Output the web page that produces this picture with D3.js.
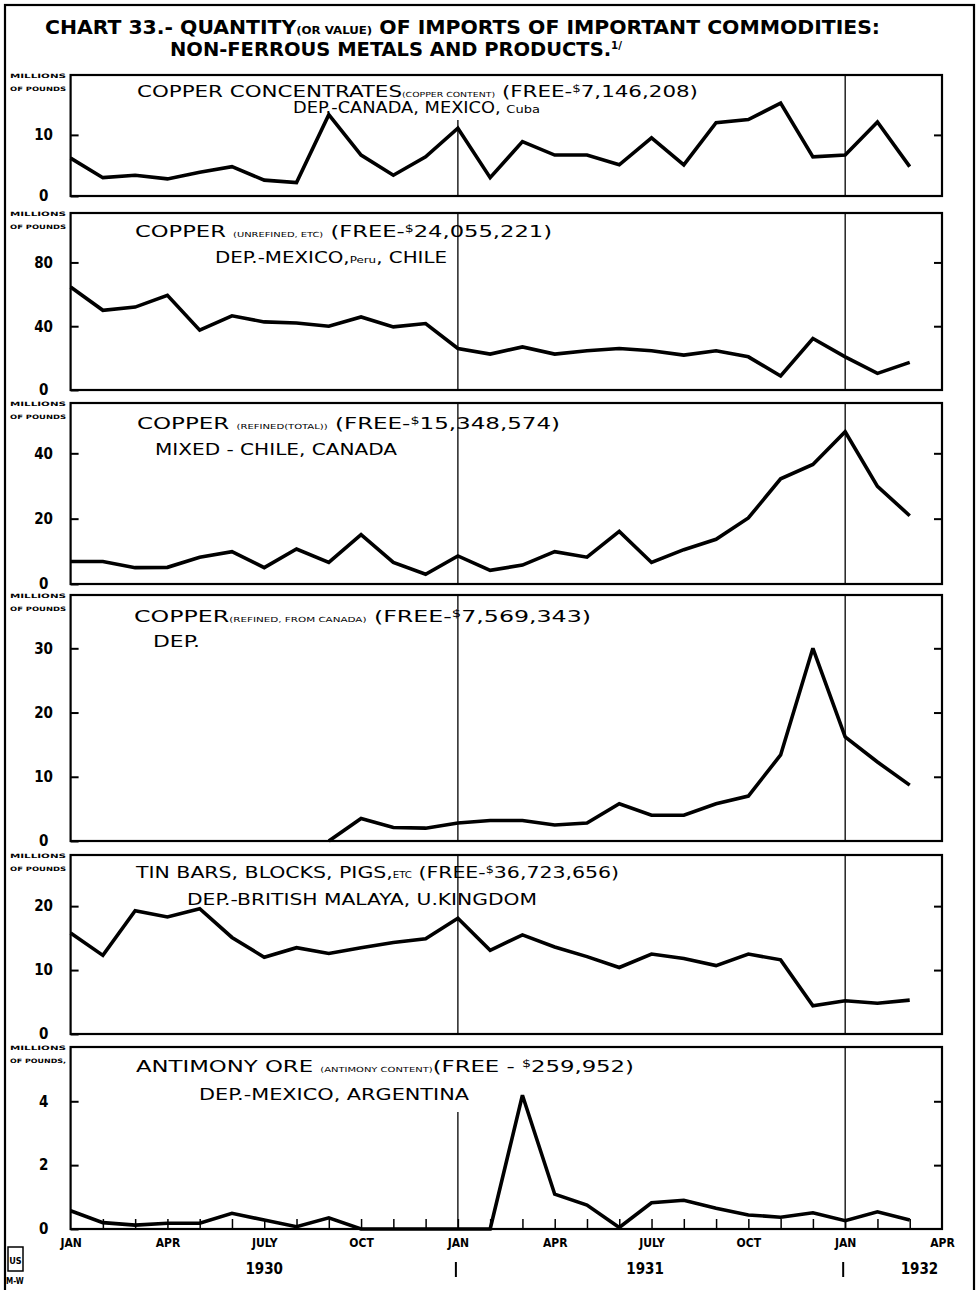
<!DOCTYPE html>
<html><head><meta charset="utf-8">
<script src="https://cdn.jsdelivr.net/npm/d3@7"></script>
<style>
html,body{margin:0;padding:0;background:#fff;}
svg{display:block;}
text{fill:#000;}
</style></head>
<body>
<script>
// ---------- DATA ----------
const months = ["Jan 1930","Feb 1930","Mar 1930","Apr 1930","May 1930","Jun 1930","Jul 1930","Aug 1930","Sep 1930","Oct 1930","Nov 1930","Dec 1930",
  "Jan 1931","Feb 1931","Mar 1931","Apr 1931","May 1931","Jun 1931","Jul 1931","Aug 1931","Sep 1931","Oct 1931","Nov 1931","Dec 1931",
  "Jan 1932","Feb 1932","Mar 1932"];
const copperConcentrates = [6.2,3.0,3.4,2.8,3.9,4.8,2.6,2.2,13.3,6.7,3.4,6.4,11.1,3.0,8.9,6.7,6.7,5.1,9.5,5.1,12.0,12.5,15.2,6.4,6.7,12.1,4.8];
const copperUnrefined = [64.6,50,52,59.4,37.5,46.5,42.7,42,40,45.8,39.6,41.7,26,22.5,27,22.5,24.6,26,24.6,21.9,24.6,20.8,8.8,32.3,20.8,10.4,17.3];
const copperRefinedTotal = [6.9,6.9,5.0,5.1,8.2,9.9,5.0,10.7,6.6,15.1,6.6,3.0,8.6,4.2,5.8,9.9,8.2,16.1,6.6,10.5,13.7,20.2,32.2,36.6,46.6,29.9,20.9];
const copperRefinedCanada = [null,null,null,null,null,null,null,null,0,3.5,2.1,2.0,2.8,3.2,3.2,2.5,2.8,5.8,4.0,4.0,5.8,7.0,13.4,30.0,16.2,12.3,8.7];
const tinBars = [15.8,12.3,19.3,18.3,19.6,15.1,12.0,13.5,12.6,13.5,14.3,14.9,18.1,13.1,15.5,13.6,12.1,10.4,12.5,11.8,10.7,12.5,11.6,4.4,5.2,4.8,5.3];
const antimonyOre = [0.57,0.2,0.12,0.18,0.18,0.49,0.28,0.07,0.35,0,0,0,0,0,4.19,1.09,0.75,0.05,0.82,0.9,0.65,0.44,0.37,0.51,0.26,0.54,0.28];

const ticks1 = [0,10], ticks2 = [0,40,80], ticks3 = [0,20,40], ticks4 = [0,10,20,30], ticks5 = [0,10,20], ticks6 = [0,2,4];
const monthTickLabels = ["JAN","APR","JULY","OCT","JAN","APR","JULY","OCT","JAN","APR"];
const yearLabels = ["1930","1931","1932"];

// ---------- LAYOUT ----------
const W = 979, H = 1290;
const X0 = 70.6, X1 = 942;
const FONT = "'Liberation Sans Narrow','DejaVu Sans Condensed','Liberation Sans',sans-serif";

const panels = [
  {values: copperConcentrates, max: 19.8, top: 75, bottom: 196, ticks: ticks1, janTop: 120,
   l1: [["COPPER CONCENTRATES",16],["(COPPER CONTENT)",7],[" (FREE-",16],["$",10,-5],["7,146,208)",16]], l1x: 137, l1y: 97, l1w: 561,
   l2: [["DEP.-CANADA, MEXICO, ",15],["Cuba",11]], l2x: 293, l2y: 113, l2w: 247},
  {values: copperUnrefined, max: 111, top: 213, bottom: 390, ticks: ticks2, janTop: 213,
   l1: [["COPPER ",16],["(UNREFINED, ETC)",7],[" (FREE-",16],["$",10,-5],["24,055,221)",16]], l1x: 135, l1y: 237, l1w: 417,
   l2: [["DEP.-MEXICO,",15],["Peru",9],[", CHILE",15]], l2x: 215, l2y: 263, l2w: 232},
  {values: copperRefinedTotal, max: 55.4, top: 403, bottom: 584, ticks: ticks3, janTop: 403,
   l1: [["COPPER ",16],["(REFINED(TOTAL))",7],[" (FREE-",16],["$",10,-5],["15,348,574)",16]], l1x: 137, l1y: 429, l1w: 423,
   l2: [["MIXED - CHILE, CANADA",15]], l2x: 155, l2y: 455, l2w: 242},
  {values: copperRefinedCanada, max: 38.3, top: 595, bottom: 841, ticks: ticks4, janTop: 595,
   l1: [["COPPER",16],["(REFINED, FROM CANADA)",7],[" (FREE-",16],["$",10,-5],["7,569,343)",16]], l1x: 134, l1y: 622, l1w: 457,
   l2: [["DEP.",15]], l2x: 153, l2y: 647, l2w: 47},
  {values: tinBars, max: 28, top: 855, bottom: 1034, ticks: ticks5, janTop: 855,
   l1: [["TIN BARS, BLOCKS, PIGS,",16],["ETC",8],[" (FREE-",16],["$",10,-5],["36,723,656)",16]], l1x: 136, l1y: 878, l1w: 483,
   l2: [["DEP.-BRITISH MALAYA, U.KINGDOM",15]], l2x: 187, l2y: 905, l2w: 350},
  {values: antimonyOre, max: 5.7, top: 1047, bottom: 1229, ticks: ticks6, janTop: 1112,
   l1: [["ANTIMONY ORE ",16],["(ANTIMONY CONTENT)",7],["(FREE - ",16],["$",10,-5],["259,952)",16]], l1x: 136, l1y: 1072, l1w: 498,
   l2: [["DEP.-MEXICO, ARGENTINA",15]], l2x: 199, l2y: 1100, l2w: 270}
];

const svg = d3.select("body").append("svg").attr("width", W).attr("height", H)
  .style("font-family", FONT);

svg.append("rect").attr("width", W).attr("height", H).attr("fill", "#fff");
// outer frame
svg.append("rect").attr("x", 5).attr("y", 5).attr("width", 969).attr("height", 1300)
  .attr("fill", "none").attr("stroke", "#000").attr("stroke-width", 2.2);

// title
function multiText(g, parts, x, y, w, weight) {
  const t = g.append("text").attr("x", x).attr("y", y)
    .attr("textLength", w).attr("lengthAdjust", "spacingAndGlyphs")
    .attr("font-weight", weight || "normal");
  parts.forEach(p => {
    const ts = t.append("tspan").attr("font-size", p[1]).text(p[0]);
    if (p[2]) ts.attr("dy", p[2]);
    else ts.attr("dy", 0);
  });
  // reset baseline after raised tspans
  let shift = 0;
  t.selectAll("tspan").each(function(d, i) {
    const p = parts[i];
    const target = p[2] || 0;
    d3.select(this).attr("dy", target - shift);
    shift = target;
  });
  return t;
}

multiText(svg, [["CHART 33.- QUANTITY",19],["(OR VALUE)",11],[" OF IMPORTS OF IMPORTANT COMMODITIES:",19]], 45, 34, 835, "bold");
multiText(svg, [["NON-FERROUS METALS AND PRODUCTS.",19],["1/",10,-7]], 170, 56, 452, "bold");

const x = d3.scaleLinear().domain([0, 27]).range([X0, X1]);

panels.forEach((p, pi) => {
  const g = svg.append("g");
  const y = d3.scaleLinear().domain([0, p.max]).range([p.bottom, p.top]);

  // Jan vertical lines
  [12, 24].forEach(m => {
    g.append("line").attr("x1", x(m)).attr("x2", x(m))
      .attr("y1", m === 12 ? p.janTop : p.top).attr("y2", p.bottom)
      .attr("stroke", "#000").attr("stroke-width", 1.3);
  });

  // left axis (inward ticks + labels)
  const la = g.append("g").attr("transform", `translate(${X0},0)`)
    .call(d3.axisLeft(y).tickValues(p.ticks).tickSize(-8).tickPadding(0).tickFormat(d3.format("d")));
  la.select(".domain").remove();
  la.selectAll(".tick line").attr("stroke", "#000").attr("stroke-width", 2);
  la.selectAll(".tick text").attr("x", -27).attr("text-anchor", "middle")
    .attr("font-size", 15).attr("font-weight", "bold").attr("font-family", FONT).attr("fill", "#000");

  // right axis (inward ticks)
  const ra = g.append("g").attr("transform", `translate(${X1},0)`)
    .call(d3.axisRight(y).tickValues(p.ticks.filter(v => v > 0)).tickSize(-8).tickFormat(""));
  ra.select(".domain").remove();
  ra.selectAll(".tick line").attr("stroke", "#000").attr("stroke-width", 2);

  // unit label
  g.append("text").attr("x", 10).attr("y", p.top + 3).attr("font-size", 6).attr("font-weight", "bold")
    .attr("textLength", 56).attr("lengthAdjust", "spacingAndGlyphs").text("MILLIONS");
  g.append("text").attr("x", 10).attr("y", p.top + 16).attr("font-size", 6).attr("font-weight", "bold")
    .attr("textLength", 56).attr("lengthAdjust", "spacingAndGlyphs").text(pi === 5 ? "OF POUNDS," : "OF POUNDS");

  // frame
  g.append("rect").attr("x", X0).attr("y", p.top).attr("width", X1 - X0).attr("height", p.bottom - p.top)
    .attr("fill", "none").attr("stroke", "#000").attr("stroke-width", 2.2);

  // data line
  const line = d3.line().defined(d => d != null).x((d, i) => x(i)).y(d => y(d));
  g.append("path").datum(p.values).attr("d", line)
    .attr("fill", "none").attr("stroke", "#000").attr("stroke-width", 3.6)
    .attr("stroke-linejoin", "miter").attr("stroke-miterlimit", 3);

  // labels
  multiText(g, p.l1, p.l1x, p.l1y, p.l1w, "normal");
  multiText(g, p.l2, p.l2x, p.l2y, p.l2w, "normal");

  // month ticks on bottom panel
  if (pi === panels.length - 1) {
    const mt = g.append("g").attr("transform", `translate(0,${p.bottom})`)
      .call(d3.axisBottom(x).tickValues(d3.range(1, 27)).tickSize(-10).tickFormat(""));
    mt.select(".domain").remove();
    mt.selectAll(".tick line").attr("stroke", "#000").attr("stroke-width", 1.5);

    const ml = g.append("g").attr("transform", `translate(0,${p.bottom})`)
      .call(d3.axisBottom(x).tickValues(d3.range(0, 28, 3)).tickSize(0).tickPadding(9)
        .tickFormat((d, i) => monthTickLabels[i]));
    ml.select(".domain").remove();
    ml.selectAll(".tick text").attr("font-size", 12).attr("font-weight", "bold")
      .attr("font-family", FONT).attr("fill", "#000");

    const yearPos = [6, 17.8, 26.3];
    yearLabels.forEach((yl, i) => {
      g.append("text").attr("x", x(yearPos[i])).attr("y", 1274).attr("text-anchor", "middle")
        .attr("font-size", 15).attr("font-weight", "bold").text(yl);
    });
    [12, 24].forEach(m => {
      g.append("line").attr("x1", x(m) - 2).attr("x2", x(m) - 2).attr("y1", 1262).attr("y2", 1277)
        .attr("stroke", "#000").attr("stroke-width", 2);
    });
  }
});

// logo
const logo = svg.append("g");
logo.append("rect").attr("x", 8).attr("y", 1247).attr("width", 15).attr("height", 24)
  .attr("fill", "none").attr("stroke", "#000").attr("stroke-width", 1.5);
logo.append("text").attr("x", 15.5).attr("y", 1264).attr("text-anchor", "middle")
  .attr("font-size", 9).attr("font-weight", "bold").text("US");
logo.append("text").attr("x", 6).attr("y", 1284).attr("font-size", 8).attr("font-weight", "bold").text("M-W");
</script>
</body></html>
